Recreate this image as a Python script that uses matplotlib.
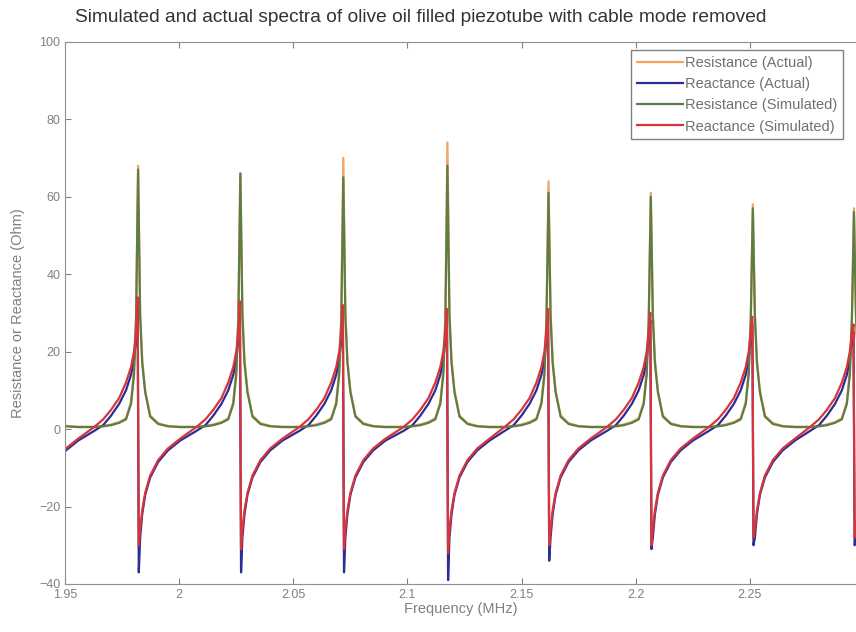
import numpy as np
import matplotlib
matplotlib.use("Agg")
import matplotlib.pyplot as plt
from matplotlib.ticker import FuncFormatter

plt.rcParams['font.family'] = ['Liberation Sans', 'DejaVu Sans']

res_freq = [1.9373, 1.9820, 2.0268, 2.0719, 2.1175, 2.1618, 2.2066, 2.2513, 2.2956]

# peak resistance at each resonance (Ohm)
r_peak_act = [60, 68, 66, 70, 74, 64, 61, 58, 57]
r_peak_sim = [60, 67, 66, 65, 68, 61, 60, 57, 56]

# reactance just below (max) and just above (min) each resonance (Ohm)
x_max_act = [28, 31, 30, 30, 29, 29, 28, 27, 25]
x_min_act = [-36, -37, -37, -37, -39, -34, -31, -30, -30]
x_max_sim = [30, 34, 33, 32, 31, 31, 30, 29, 27]
x_min_sim = [-30, -30, -31, -31, -32, -30, -30, -28, -28]

# wings around every resonance, offsets in MHz from the resonance
left_off = [-0.0193, -0.0153, -0.0118, -0.0083, -0.0053, -0.0031, -0.0018, -0.0009]
right_off = [0.0009, 0.0018, 0.0031, 0.0053, 0.0088, 0.0131, 0.0184]
spike_off = [-0.0002, 0.0003]   # where reactance max / min sit

r_left_act = [0.6, 0.8, 1.2, 1.8, 2.8, 7.0, 15.0, 29.0]
r_right_act = [30.0, 18.0, 10.0, 3.5, 1.5, 0.8, 0.6]
r_left_sim = [0.5, 0.7, 1.0, 1.6, 2.5, 6.5, 14.0, 28.0]
r_right_sim = [29.0, 17.0, 9.5, 3.2, 1.3, 0.7, 0.5]

x_left_act = [-0.5, 1.0, 3.5, 6.5, 10.0, 14.0, 18.0, 23.0]
x_right_act = [-28.0, -22.0, -17.0, -12.5, -8.5, -5.5, -3.0]
x_left_sim = [0.5, 2.5, 5.0, 8.0, 12.0, 16.0, 20.0, 25.0]
x_right_sim = [-26.0, -21.0, -16.5, -12.0, -8.0, -5.0, -2.5]


def resistance(peaks, v_left, v_right):
    f, v = [], []
    for f0, pk in zip(res_freq, peaks):
        f += [f0 + o for o in left_off] + [f0] + [f0 + o for o in right_off]
        v += v_left + [pk] + v_right
    return np.array(f), np.array(v)


def reactance(maxs, mins, v_left, v_right):
    f, v = [], []
    for f0, mx, mn in zip(res_freq, maxs, mins):
        f += [f0 + o for o in left_off] + [f0 + o for o in spike_off] + [f0 + o for o in right_off]
        v += v_left + [mx, mn] + v_right
    return np.array(f), np.array(v)


fig = plt.figure(figsize=(8.56, 6.32), dpi=100)
ax = fig.add_axes([0.076, 0.076, 0.924, 0.858])

f, v = resistance(r_peak_act, r_left_act, r_right_act)
ax.plot(f, v, color='#f4a460', lw=1.6, label='Resistance (Actual)')
f, v = reactance(x_max_act, x_min_act, x_left_act, x_right_act)
ax.plot(f, v, color='#2c2c96', lw=1.6, label='Reactance (Actual)')
f, v = resistance(r_peak_sim, r_left_sim, r_right_sim)
ax.plot(f, v, color='#5e7d44', lw=1.6, label='Resistance (Simulated)')
f, v = reactance(x_max_sim, x_min_sim, x_left_sim, x_right_sim)
ax.plot(f, v, color='#d8343a', lw=1.6, label='Reactance (Simulated)')

ax.set_xlim(1.95, 2.2965)
ax.set_ylim(-40, 100)
ax.set_xticks([1.95, 2.0, 2.05, 2.1, 2.15, 2.2, 2.25])
ax.set_yticks(range(-40, 101, 20))
ax.xaxis.set_major_formatter(FuncFormatter(lambda val, pos: '%g' % round(val, 2)))
ax.tick_params(direction='in', top=True, right=False, labelsize=9,
               colors='#808080', length=4)
for side in ['left', 'bottom', 'top']:
    ax.spines[side].set_color('#909090')
ax.spines['right'].set_visible(False)

fig.text(421 / 856, 1 - 18 / 632,
         'Simulated and actual spectra of olive oil filled piezotube with cable mode removed',
         fontsize=13.8, color='#333333', ha='center', va='center')
ax.set_xlabel('Frequency (MHz)', fontsize=10.5, color='#808080', labelpad=1)
ax.set_ylabel('Resistance or Reactance (Ohm)', fontsize=10.5, color='#808080', labelpad=10)

leg = ax.legend(loc='upper right', bbox_to_anchor=(0.9836, 0.985), borderaxespad=0,
                fontsize=10.5, handlelength=3.2, handletextpad=0.1, labelspacing=0.5,
                fancybox=False, framealpha=1)
leg.get_frame().set_edgecolor('#808080')
for t in leg.get_texts():
    t.set_color('#707070')

fig.savefig('out.png', dpi=100)
